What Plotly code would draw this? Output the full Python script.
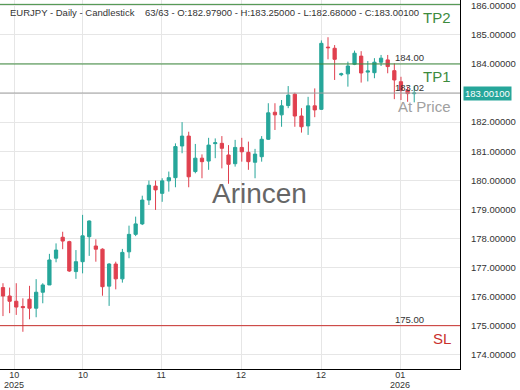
import plotly.graph_objects as go

# ---- data ----
opens = [176.31, 176.02, 175.84, 175.66, 175.91, 175.60, 176.15, 176.40, 177.32, 178.04,
         177.89, 176.86, 177.20, 178.06, 177.74, 177.63, 176.36, 177.12, 176.61, 177.54,
         178.14, 178.50, 179.32, 179.80, 179.55, 179.98, 180.09, 181.18, 181.52, 180.30,
         180.76, 180.66, 181.26, 181.27, 180.87, 180.57, 181.13, 180.96, 180.62, 180.81,
         181.41, 182.34, 182.25, 182.57, 182.96, 182.21, 181.87, 182.56, 182.44, 184.58,
         184.54, 183.63, 183.66, 183.99, 184.27, 183.72, 183.70, 184.06, 184.14, 183.77,
         183.39, 183.10, 182.979]
highs = [176.46, 176.31, 176.46, 175.94, 176.37, 176.60, 176.46, 177.47, 177.83, 178.23,
         177.92, 177.60, 178.81, 178.62, 177.97, 177.66, 177.15, 177.20, 177.64, 178.44,
         178.75, 179.47, 179.99, 179.99, 180.07, 180.30, 181.27, 182.00, 181.67, 181.25,
         180.89, 181.46, 181.44, 181.52, 181.21, 181.39, 181.46, 181.33, 181.08, 181.52,
         182.65, 182.65, 182.76, 183.24, 183.01, 182.48, 182.87, 183.16, 184.81, 184.92,
         184.65, 183.70, 184.08, 184.46, 184.44, 184.10, 184.20, 184.31, 184.31, 184.02,
         183.56, 183.22, 183.25]
lows = [175.33, 175.43, 175.37, 174.79, 175.22, 175.29, 175.77, 176.40, 177.18, 177.63,
        176.85, 176.61, 176.80, 177.40, 177.20, 176.03, 175.68, 176.25, 176.48, 177.32,
        178.08, 178.46, 179.15, 178.98, 179.26, 179.61, 179.76, 180.93, 179.76, 180.24,
        180.07, 180.36, 180.76, 180.41, 179.88, 180.47, 180.64, 180.36, 180.07, 180.64,
        181.39, 181.73, 181.84, 182.48, 181.84, 181.64, 181.56, 182.17, 182.42, 184.16,
        183.45, 183.58, 183.22, 183.96, 183.36, 183.40, 183.51, 183.93, 183.68, 182.79,
        182.76, 182.70, 182.68]
closes = [176.02, 175.84, 175.64, 175.62, 175.60, 176.15, 176.40, 177.26, 177.60, 177.91,
          176.88, 177.20, 178.09, 178.60, 177.63, 176.34, 177.12, 176.61, 177.52, 178.14,
          178.50, 179.32, 179.83, 179.67, 179.98, 180.09, 181.16, 181.52, 180.12, 180.76,
          180.64, 181.21, 181.29, 181.10, 180.55, 181.13, 180.98, 180.64, 180.90, 181.41,
          182.32, 182.25, 182.56, 182.93, 182.21, 181.84, 182.56, 182.42, 184.71, 184.56,
          184.16, 183.66, 183.93, 184.37, 183.69, 183.76, 184.06, 184.20, 183.91, 183.45,
          183.10, 182.98, 183.001]
bar_index = list(range(len(closes)))

month_labels = ["10", "10", "11", "12", "12", "01"]
year_labels = ["2025", "", "", "", "", "2026"]
tick_index = [1.7, 12.05, 23.85, 35.9, 47.95, 59.9]

price_ticks = [174, 175, 176, 177, 178, 179, 180, 181, 182, 183, 184, 185, 186]

level_values = [186.05, 184.00, 183.001, 175.00]
level_names = ["TP2", "TP1", "At Price", "SL"]
level_tags = ["", "184.00", "183.02", "175.00"]
level_colors = ["#3d8b3d", "#3d8b3d", "#a0a0a0", "#c9302c"]

title_text = ("EURJPY - Daily - Candlestick&nbsp;&nbsp;&nbsp;&nbsp;63/63 - O:182.97900 - "
              "H:183.25000 - L:182.68000 - C:183.00100")
last_price_text = "183.00100"

UP = "#26a69a"
DOWN = "#e0404f"
FONT = "Liberation Sans, Arial, sans-serif"

fig = go.Figure()
fig.add_trace(go.Candlestick(
    x=bar_index, open=opens, high=highs, low=lows, close=closes,
    increasing=dict(line=dict(color=UP, width=1), fillcolor=UP),
    decreasing=dict(line=dict(color=DOWN, width=1), fillcolor=DOWN),
    whiskerwidth=0, showlegend=False, hoverinfo="skip",
))

shapes = []
annotations = []
for val, name, tag, col in zip(level_values, level_names, level_tags, level_colors):
    shapes.append(dict(type="line", xref="paper", x0=0, x1=1, yref="y", y0=val, y1=val,
                       line=dict(color=col, width=1), layer="above"))
    annotations.append(dict(xref="paper", yref="y", x=0.985, y=val, text=name,
                            showarrow=False, xanchor="right", yanchor="middle", yshift=-13,
                            font=dict(family=FONT, size=15, color=col)))
    if tag:
        annotations.append(dict(xref="paper", yref="y", x=0.89, y=val, text=tag,
                                showarrow=False, xanchor="center", yanchor="middle", yshift=6,
                                font=dict(family=FONT, size=9.5, color="#333333")))

for xi, yl in zip(tick_index, year_labels):
    if yl:
        annotations.append(dict(xref="x", yref="paper", x=xi, y=0, text=yl,
                                showarrow=False, xanchor="center", yanchor="middle", yshift=-15.5,
                                font=dict(family=FONT, size=9, color="#333333")))

annotations.append(dict(xref="paper", yref="paper", x=0.017, y=1, yshift=-12, text=title_text,
                        showarrow=False, xanchor="left", yanchor="middle",
                        font=dict(family=FONT, size=9.5, color="#333333")))
annotations.append(dict(xref="paper", yref="paper", x=0.565, y=0.476, text="Arincen",
                        showarrow=False, xanchor="center", yanchor="middle",
                        font=dict(family=FONT, size=28, color="#666666")))
annotations.append(dict(xref="paper", yref="y", x=1, y=closes[-1], text=last_price_text,
                        showarrow=False, xanchor="left", yanchor="middle", xshift=3,
                        bgcolor=UP, borderpad=1,
                        font=dict(family=FONT, size=9.5, color="white")))

fig.update_layout(
    width=520, height=390,
    margin=dict(l=0, r=60, t=0, b=21),
    paper_bgcolor="white", plot_bgcolor="white",
    shapes=shapes, annotations=annotations,
    showlegend=False,
    font=dict(family=FONT, size=9.5, color="#333333"),
)
fig.update_xaxes(
    range=[-0.45, 68.9], rangeslider_visible=False,
    tickmode="array", tickvals=tick_index, ticktext=month_labels,
    showgrid=True, gridcolor="#e6e6e6", gridwidth=1,
    showline=True, linecolor="#000000", linewidth=1,
    ticks="", ticklabelstandoff=-3, zeroline=False, automargin=False,
    tickfont=dict(family=FONT, size=9, color="#333333"),
)
fig.update_yaxes(
    side="right", range=[173.51, 186.2],
    tickmode="array", tickvals=price_ticks,
    ticktext=["" if v == 183 else f"{v:.5f}" for v in price_ticks],
    showgrid=True, gridcolor="#e6e6e6", gridwidth=1,
    showline=True, linecolor="#000000", linewidth=1,
    ticks="", ticklabelstandoff=8, zeroline=False, automargin=False,
    tickfont=dict(family=FONT, size=9.5, color="#333333"),
)

fig.write_html("out.html")
